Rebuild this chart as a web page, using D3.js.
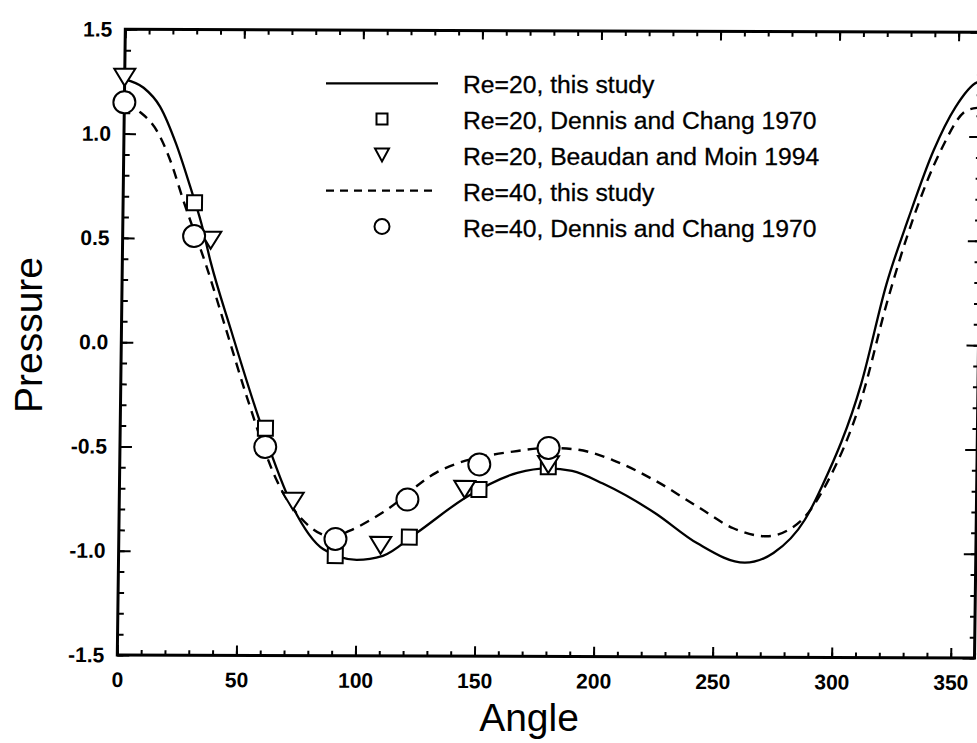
<!DOCTYPE html>
<html>
<head>
<meta charset="utf-8">
<script src="https://cdn.jsdelivr.net/npm/d3@7"></script>
<style>
  html, body { margin: 0; padding: 0; background: #fff; }
  svg { display: block; }
</style>
</head>
<body>
<svg id="chart" width="977" height="743"></svg>
<script>
// Pressure distribution around a circular cylinder, Re = 20 and Re = 40

// Re=20, this study (solid curve)
const re20Angle    = [0, 8, 15, 22, 28, 33, 37, 46, 59, 73, 86, 100, 111, 125, 146, 167, 180, 190, 203, 225, 243, 263, 275, 288, 295, 311, 321, 330, 340, 349, 358, 360];
const re20Pressure = [1.26, 1.22, 1.13, 0.95, 0.75, 0.57, 0.39, 0.06, -0.39, -0.79, -0.99, -1.04, -1.02, -0.91, -0.735, -0.62, -0.598, -0.61, -0.67, -0.81, -0.955, -1.047, -1.0, -0.84, -0.68, -0.185, 0.29, 0.61, 0.93, 1.14, 1.26, 1.265];

// Re=40, this study (dashed curve)
const re40Angle    = [0, 7, 14, 20, 25, 35.5, 44, 53, 66, 80, 90, 97, 111, 133, 167, 180, 191, 207, 224.5, 244, 258, 272, 281, 288, 297, 311, 321.6, 332, 343, 354, 360];
const re40Pressure = [1.14, 1.10, 1.01, 0.86, 0.69, 0.36, 0.06, -0.26, -0.66, -0.88, -0.93, -0.90, -0.81, -0.62, -0.515, -0.50, -0.506, -0.557, -0.652, -0.787, -0.882, -0.92, -0.89, -0.826, -0.665, -0.265, 0.214, 0.61, 0.93, 1.126, 1.14];

// Re=20, Dennis and Chang 1970 (squares)
const dc20Angle    = [30, 61, 91, 122, 151, 180];
const dc20Pressure = [0.67, -0.41, -1.02, -0.93, -0.70, -0.59];

// Re=20, Beaudan and Moin 1994 (down triangles)
const bm20Angle    = [0, 37, 73, 110, 145, 180];
const bm20Pressure = [1.27, 0.49, -0.76, -0.97, -0.70, -0.58];

// Re=40, Dennis and Chang 1970 (circles)
const dc40Angle    = [0, 30, 61, 91, 121, 151, 180];
const dc40Pressure = [1.15, 0.51, -0.50, -0.94, -0.75, -0.58, -0.50];

// Axis ticks and labels
const angleTicks     = [0, 50, 100, 150, 200, 250, 300, 350];
const angleLabels    = ["0", "50", "100", "150", "200", "250", "300", "350"];
const pressureTicks  = [-1.5, -1.0, -0.5, 0.0, 0.5, 1.0, 1.5];
const pressureLabels = ["-1.5", "-1.0", "-0.5", "0.0", "0.5", "1.0", "1.5"];
const angleMinor     = d3.range(0, 361, 10);
const pressureMinor  = d3.range(-15, 16).map(d => d / 10);

const legendLabels = [
  "Re=20, this study",
  "Re=20, Dennis and Chang 1970",
  "Re=20, Beaudan and Moin 1994",
  "Re=40, this study",
  "Re=40, Dennis and Chang 1970"
];

const FONT = "'Liberation Sans', Arial, Helvetica, sans-serif";
const svg = d3.select("#chart");
svg.append("rect").attr("width", 977).attr("height", 743).attr("fill", "#fff");

const x = d3.scaleLinear().domain([0, 360]).range([117.3, 974.5]);
const y = d3.scaleLinear().domain([-1.5, 1.5]).range([655, 29.3]);

// the printed frame leans slightly: a small shear anchored at the lower-left corner
const kx = 0.0128, ky = 0.0035;
const ox = x(0), oy = y(-1.5);
const g = svg.append("g")
  .attr("transform", `matrix(1,${ky},${-kx},1,${kx * oy},${-ky * ox})`);

// frame
g.append("rect")
  .attr("x", x(0)).attr("y", y(1.5))
  .attr("width", x(360) - x(0)).attr("height", y(-1.5) - y(1.5))
  .attr("fill", "none").attr("stroke", "#000").attr("stroke-width", 3);

function styleAxis(sel) {
  sel.select(".domain").remove();
  sel.selectAll(".tick line").attr("stroke", "#000").attr("stroke-width", 2);
  sel.selectAll(".tick text")
    .attr("fill", "#000")
    .style("font-family", FONT)
    .style("font-size", "21px")
    .style("font-weight", "bold");
}

// bottom axis
g.append("g").attr("transform", `translate(0,${y(-1.5)})`)
  .call(d3.axisBottom(x).tickValues(angleMinor).tickSize(-5).tickFormat(""))
  .call(styleAxis);
g.append("g").attr("transform", `translate(0,${y(-1.5)})`)
  .call(d3.axisBottom(x).tickValues(angleTicks).tickSize(-10).tickPadding(17)
    .tickFormat((d, i) => angleLabels[i]))
  .call(styleAxis);

// top axis
g.append("g").attr("transform", `translate(0,${y(1.5)})`)
  .call(d3.axisTop(x).tickValues(angleMinor).tickSize(-5).tickFormat(""))
  .call(styleAxis);
g.append("g").attr("transform", `translate(0,${y(1.5)})`)
  .call(d3.axisTop(x).tickValues(angleTicks).tickSize(-9).tickFormat(""))
  .call(styleAxis);

// left axis
g.append("g").attr("transform", `translate(${x(0)},0)`)
  .call(d3.axisLeft(y).tickValues(pressureMinor).tickSize(-6).tickFormat(""))
  .call(styleAxis);
g.append("g").attr("transform", `translate(${x(0)},0)`)
  .call(d3.axisLeft(y).tickValues(pressureTicks).tickSize(-12).tickPadding(13)
    .tickFormat((d, i) => pressureLabels[i]))
  .call(styleAxis);

// right axis
g.append("g").attr("transform", `translate(${x(360)},0)`)
  .call(d3.axisRight(y).tickValues(pressureMinor).tickSize(-5).tickFormat(""))
  .call(styleAxis);
g.append("g").attr("transform", `translate(${x(360)},0)`)
  .call(d3.axisRight(y).tickValues(pressureTicks).tickSize(-12).tickFormat(""))
  .call(styleAxis);

// curves
const line = d3.line()
  .x(d => x(d[0])).y(d => y(d[1]))
  .curve(d3.curveMonotoneX);

g.append("path")
  .datum(re20Angle.map((a, i) => [a, re20Pressure[i]]))
  .attr("d", line).attr("fill", "none")
  .attr("stroke", "#000").attr("stroke-width", 2.3);

g.append("path")
  .datum(re40Angle.map((a, i) => [a, re40Pressure[i]]))
  .attr("d", line).attr("fill", "none")
  .attr("stroke", "#000").attr("stroke-width", 2.4)
  .attr("stroke-dasharray", "10,7");

// downward-pointing open triangle
function downTriangle(w, h) {
  return {
    draw(ctx) {
      ctx.moveTo(-w / 2, -h / 2);
      ctx.lineTo(w / 2, -h / 2);
      ctx.lineTo(0, h / 2);
      ctx.closePath();
    }
  };
}

function drawMarkers(angles, values, symbolPath) {
  g.append("g").selectAll("path")
    .data(angles.map((a, i) => [a, values[i]]))
    .join("path")
    .attr("transform", d => `translate(${x(d[0])},${y(d[1])})`)
    .attr("d", symbolPath)
    .attr("fill", "#fff")
    .attr("stroke", "#000")
    .attr("stroke-width", 2);
}

drawMarkers(dc20Angle, dc20Pressure, d3.symbol().type(d3.symbolSquare).size(15 * 15)());
drawMarkers(bm20Angle, bm20Pressure, d3.symbol().type(downTriangle(21, 17))());
drawMarkers(dc40Angle, dc40Pressure, d3.symbol().type(d3.symbolCircle).size(Math.PI * 11 * 11)());

// legend
const legend = svg.append("g");
const legendX0 = 326, legendX1 = 438, legendMarkX = 382, legendTextX = 463;
const legendBase = 93.3, legendStep = 35.8;
legendLabels.forEach((label, i) => {
  const by = legendBase + i * legendStep;
  const cy = by - 10;
  if (i === 0 || i === 3) {
    legend.append("line")
      .attr("x1", legendX0).attr("x2", legendX1)
      .attr("y1", cy).attr("y2", cy)
      .attr("stroke", "#000").attr("stroke-width", 2.2)
      .attr("stroke-dasharray", i === 3 ? "8,6" : null);
  } else {
    const sym = i === 1 ? d3.symbol().type(d3.symbolSquare).size(11 * 11)()
              : i === 2 ? d3.symbol().type(downTriangle(14, 13))()
              : d3.symbol().type(d3.symbolCircle).size(Math.PI * 7.5 * 7.5)();
    legend.append("path")
      .attr("transform", `translate(${legendMarkX},${cy})`)
      .attr("d", sym)
      .attr("fill", "#fff").attr("stroke", "#000").attr("stroke-width", 2);
  }
  legend.append("text")
    .attr("x", legendTextX).attr("y", by)
    .style("font-family", FONT).style("font-size", "24.7px")
    .attr("fill", "#000")
    .attr("stroke", "#000").attr("stroke-width", 0.3)
    .text(label);
});

// axis titles
svg.append("text")
  .attr("x", 529).attr("y", 731)
  .attr("text-anchor", "middle")
  .style("font-family", FONT).style("font-size", "39px")
  .attr("fill", "#000")
  .text("Angle");

svg.append("text")
  .attr("transform", "translate(42,335) rotate(-90)")
  .attr("text-anchor", "middle")
  .style("font-family", FONT).style("font-size", "39px")
  .attr("fill", "#000")
  .text("Pressure");
</script>
</body>
</html>
